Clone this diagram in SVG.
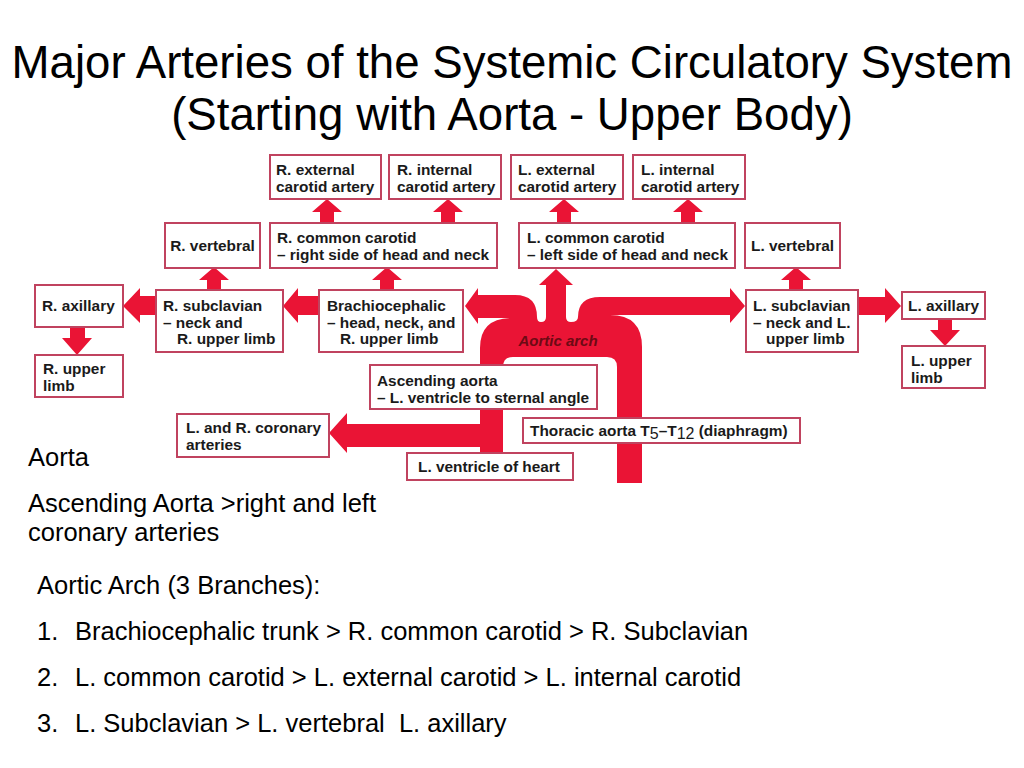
<svg xmlns="http://www.w3.org/2000/svg" width="1024" height="768" viewBox="0 0 1024 768">
<style>
.box{fill:#fff;stroke:#c0435f;stroke-width:2}
.bt{font-family:"Liberation Sans",Arial,sans-serif;font-weight:bold;font-size:15.4px;fill:#1a1a1a}
.red{fill:#ea1435}
.title{font-family:"Liberation Sans",Arial,sans-serif;font-size:45.6px;fill:#000}
.body{font-family:"Liberation Sans",Arial,sans-serif;font-size:25.5px;fill:#000}
.arch{font-family:"Liberation Sans",Arial,sans-serif;font-weight:bold;font-style:italic;font-size:15px;fill:#6d0a14}
</style>
<defs>
<path id="up" d="M0,0 L15,13 L7,13 L7,24 L-7,24 L-7,13 L-15,13 Z"/>
</defs>
<rect width="1024" height="768" fill="#fff"/>
<text class="title" x="512" y="78" text-anchor="middle">Major Arteries of the Systemic Circulatory System</text>
<text class="title" x="512" y="130" text-anchor="middle">(Starting with Aorta - Upper Body)</text>

<g id="connectors" class="red">
<path d="M465,306 L478,288 L478,295 L515,295 Q537,295 537,317 Q537,322 541,322 Q546,322 546,317 L546,285 L539,285 L556,269 L573,285 L566,285 L566,317 Q566,322 571,322 Q578,322 578,317 Q578,297 600,297 L730,297 L730,288 L745,306 L730,323 L730,315 L610,315 Q642,315 642,347 L642,483 L617,483 L617,367 Q617,357 607,357 L513,357 Q503,357 503,367 L503,453 L480,453 L480,348 Q480,319 510,318 L478,318 L478,324 Z"/>
<path d="M329,433 L347,413 L347,424 L485,424 L485,447 L347,447 L347,453 Z"/>
<use href="#up" x="327" y="199"/>
<use href="#up" x="448" y="199"/>
<use href="#up" x="564" y="199"/>
<use href="#up" x="688" y="199"/>
<use href="#up" x="214" y="267"/>
<use href="#up" x="387" y="267"/>
<use href="#up" x="796" y="267"/>
<path d="M123,306 L140,288 L140,296 L157,296 L157,315 L140,315 L140,323 Z"/>
<path d="M283,306 L298,288 L298,296 L320,296 L320,315 L298,315 L298,323 Z"/>
<path d="M901,306 L885,288 L885,297 L857,297 L857,315 L885,315 L885,323 Z"/>
<path d="M77,355 L62,338 L70,338 L70,326 L85,326 L85,338 L92,338 Z"/>
<path d="M945,346 L930,330 L938,330 L938,318 L952,318 L952,330 L960,330 Z"/>
</g>
<text class="arch" x="558" y="346" text-anchor="middle">Aortic arch</text>

<g id="r-ext"><rect class="box" x="270" y="155" width="111" height="44"/><text class="bt" x="276" y="175">R. external<tspan x="276" y="192">carotid artery</tspan></text></g>
<g id="r-int"><rect class="box" x="389" y="155" width="112" height="44"/><text class="bt" x="397" y="175">R. internal<tspan x="397" y="192">carotid artery</tspan></text></g>
<g id="l-ext"><rect class="box" x="511" y="155" width="112" height="44"/><text class="bt" x="518" y="175">L. external<tspan x="518" y="192">carotid artery</tspan></text></g>
<g id="l-int"><rect class="box" x="633" y="155" width="112" height="44"/><text class="bt" x="641" y="175">L. internal<tspan x="641" y="192">carotid artery</tspan></text></g>
<g id="r-vert"><rect class="box" x="165" y="223" width="95" height="45"/><text class="bt" x="212.5" y="251" text-anchor="middle">R. vertebral</text></g>
<g id="r-cc"><rect class="box" x="270" y="223" width="227" height="45"/><text class="bt" x="277" y="243">R. common carotid<tspan x="277" y="260">– right side of head and neck</tspan></text></g>
<g id="l-cc"><rect class="box" x="519" y="223" width="216" height="45"/><text class="bt" x="527" y="243">L. common carotid<tspan x="527" y="260">– left side of head and neck</tspan></text></g>
<g id="l-vert"><rect class="box" x="745" y="223" width="95" height="45"/><text class="bt" x="792.5" y="251" text-anchor="middle">L. vertebral</text></g>
<g id="r-ax"><rect class="box" x="35" y="285" width="88" height="42"/><text class="bt" x="42" y="311">R. axillary</text></g>
<g id="r-sub"><rect class="box" x="156" y="290" width="127" height="62"/><text class="bt" x="163" y="311">R. subclavian<tspan x="163" y="327.5">– neck and</tspan><tspan x="177" y="344">R. upper limb</tspan></text></g>
<g id="brach"><rect class="box" x="319" y="290" width="144" height="62"/><text class="bt" x="327" y="311">Brachiocephalic<tspan x="327" y="327.5">– head, neck, and</tspan><tspan x="340" y="344">R. upper limb</tspan></text></g>
<g id="l-sub"><rect class="box" x="746" y="290" width="112" height="62"/><text class="bt" x="753" y="311">L. subclavian<tspan x="753" y="327.5">– neck and L.</tspan><tspan x="766" y="344">upper limb</tspan></text></g>
<g id="l-ax"><rect class="box" x="902" y="292" width="83" height="27"/><text class="bt" x="908" y="311">L. axillary</text></g>
<g id="l-ul"><rect class="box" x="902" y="346" width="83" height="42"/><text class="bt" x="911" y="366">L. upper<tspan x="911" y="383">limb</tspan></text></g>
<g id="r-ul"><rect class="box" x="35" y="355" width="88" height="42"/><text class="bt" x="43" y="374">R. upper<tspan x="43" y="391">limb</tspan></text></g>
<g id="asc"><rect class="box" x="370" y="365" width="227" height="44"/><text class="bt" x="377" y="386">Ascending aorta<tspan x="377" y="403">– L. ventricle to sternal angle</tspan></text></g>
<g id="cor"><rect class="box" x="177" y="414" width="152" height="43"/><text class="bt" x="186" y="433">L. and R. coronary<tspan x="186" y="450">arteries</tspan></text></g>
<g id="thor"><rect class="box" x="523" y="418" width="277" height="25"/><text class="bt" x="530" y="436">Thoracic aorta T<tspan font-weight="normal" font-size="16px" dy="3">5</tspan><tspan dy="-3">–T</tspan><tspan font-weight="normal" font-size="16px" dy="3">12</tspan><tspan dy="-3"> (diaphragm)</tspan></text></g>
<g id="lv"><rect class="box" x="407" y="453" width="166" height="27"/><text class="bt" x="418" y="472">L. ventricle of heart</text></g>

<text class="body" x="28" y="466">Aorta</text>
<text class="body" x="28" y="512">Ascending Aorta &gt;right and left</text>
<text class="body" x="28" y="541">coronary arteries</text>
<text class="body" x="37" y="594">Aortic Arch (3 Branches):</text>
<text class="body" x="37" y="640">1.</text>
<text class="body" x="75" y="640">Brachiocephalic trunk &gt; R. common carotid &gt; R. Subclavian</text>
<text class="body" x="37" y="686">2.</text>
<text class="body" x="75" y="686">L. common carotid &gt; L. external carotid &gt; L. internal carotid</text>
<text class="body" x="37" y="732">3.</text>
<text class="body" x="75" y="732" xml:space="preserve">L. Subclavian &gt; L. vertebral  L. axillary</text>
</svg>
